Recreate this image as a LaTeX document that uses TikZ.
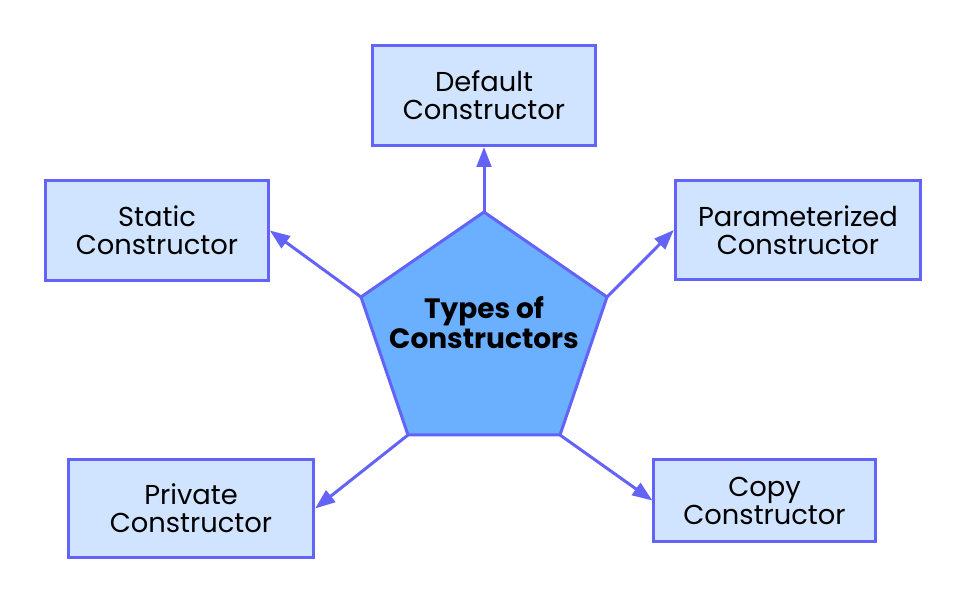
\documentclass[tikz,border=0pt]{standalone}
\usepackage{fontspec}
\setmainfont{Poppins}
\usetikzlibrary{arrows.meta}
\definecolor{edgeblue}{HTML}{6363F7}
\definecolor{boxfill}{HTML}{D0E3FF}
\definecolor{pentfill}{HTML}{6BAFFF}
\tikzset{
  typebox/.style={draw=edgeblue, fill=boxfill, line width=2.25pt, inner sep=0pt,
    align=center, font=\fontsize{20.5}{21}\selectfont},
  link/.style={draw=edgeblue, line width=2.25pt, -{Triangle[length=15pt,width=11pt]}},
}
\begin{document}
\begin{tikzpicture}[x=0.75pt,y=-0.75pt]
\useasboundingbox (0,0) rectangle (968,605);
% pentagon vertices
\coordinate (pt) at (484,212);
\coordinate (pl) at (361,297);
\coordinate (pr) at (607,297);
\coordinate (pbl) at (408,435);
\coordinate (pbr) at (560,435);
\draw[edgeblue, fill=pentfill, line width=2.25pt, line join=miter] (pt) -- (pr) -- (pbr) -- (pbl) -- (pl) -- cycle;
\node[align=center, font=\fontsize{21}{22.5}\selectfont\bfseries] (title) at (484,323) {Types of\\Constructors};
% boxes
\node[typebox, minimum width=167pt, minimum height=75pt] (def) at (484,95.5) {Default\\Constructor};
\node[typebox, minimum width=167pt, minimum height=75pt] (stat) at (157,230.5) {Static\\Constructor};
\node[typebox, minimum width=184pt, minimum height=74pt] (par) at (798,230) {Parameterized\\Constructor};
\node[typebox, minimum width=184pt, minimum height=73pt] (priv) at (191,508.5) {Private\\Constructor};
\node[typebox, minimum width=166pt, minimum height=61pt] (copy) at (764.5,500.5) {Copy\\Constructor};
% connectors
\draw[link] (pt) -- (def.south);
\draw[link] (pl) -- (stat.east);
\draw[link] (pr) -- (par.west);
\draw[link] (pbl) -- (priv.east);
\draw[link] (pbr) -- (copy.west);
\end{tikzpicture}
\end{document}
